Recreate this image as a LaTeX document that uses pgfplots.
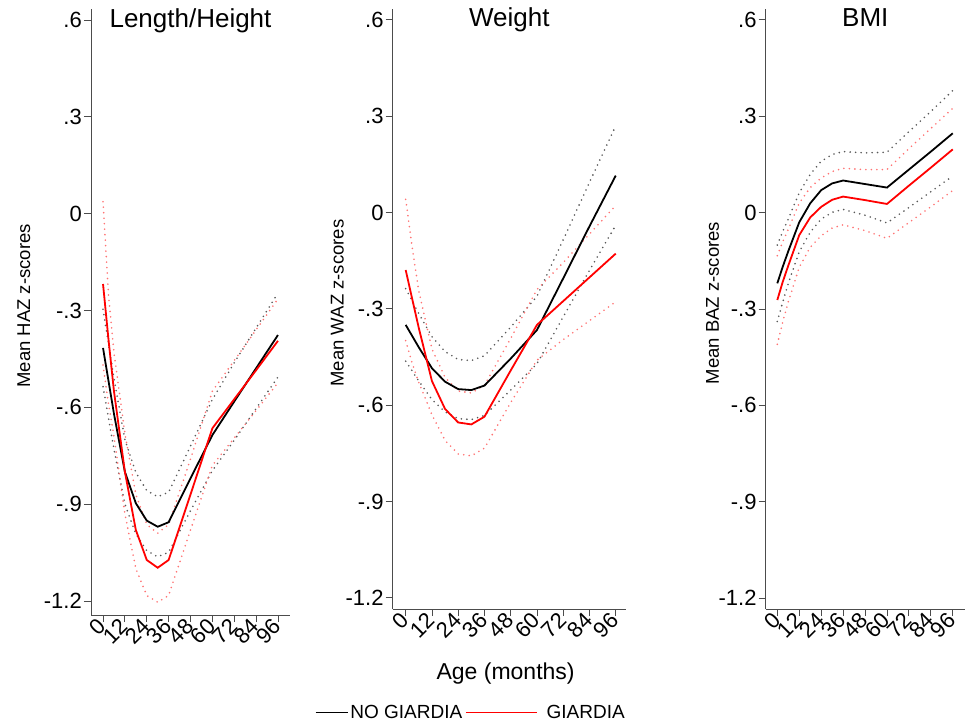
\documentclass[border=0pt]{standalone}
\usepackage{fontspec}
\setmainfont{Liberation Sans}
\usepackage{pgfplots}
\usepackage{pgfplotstable}
\pgfplotsset{compat=1.18}

% columns: age (months), mean z-score, lower and upper CI
\pgfplotstableread{
x m lo hi
0 -0.416 -0.536 -0.296
6 -0.620 -0.730 -0.510
12 -0.800 -0.900 -0.700
18 -0.897 -0.992 -0.802
24 -0.951 -1.044 -0.858
30 -0.970 -1.063 -0.877
36 -0.956 -1.049 -0.863
48 -0.820 -0.920 -0.720
60 -0.686 -0.796 -0.576
72 -0.582 -0.702 -0.462
84 -0.479 -0.604 -0.354
96 -0.376 -0.506 -0.246
}\haznog
\pgfplotstableread{
x m lo hi
0 -0.218 -0.469 0.037
3 -0.390 -0.590 -0.250
6 -0.550 -0.690 -0.430
12 -0.800 -0.930 -0.680
18 -0.980 -1.100 -0.870
24 -1.073 -1.183 -0.963
30 -1.097 -1.204 -0.990
36 -1.073 -1.183 -0.963
48 -0.870 -0.980 -0.760
60 -0.665 -0.780 -0.550
72 -0.575 -0.695 -0.455
84 -0.485 -0.610 -0.360
96 -0.394 -0.524 -0.264
}\hazg
\pgfplotstableread{
x m lo hi
0 -0.350 -0.463 -0.237
6 -0.420 -0.525 -0.315
12 -0.485 -0.583 -0.387
18 -0.527 -0.621 -0.433
24 -0.550 -0.642 -0.458
30 -0.553 -0.645 -0.461
36 -0.539 -0.632 -0.446
48 -0.455 -0.553 -0.357
60 -0.366 -0.471 -0.261
72 -0.205 -0.325 -0.085
84 -0.043 -0.180 0.094
96 0.115 -0.040 0.270
}\waznog
\pgfplotstableread{
x m lo hi
0 -0.179 -0.399 0.041
3 -0.270 -0.470 -0.110
6 -0.360 -0.530 -0.245
12 -0.525 -0.630 -0.425
18 -0.612 -0.710 -0.514
24 -0.654 -0.752 -0.556
30 -0.660 -0.758 -0.562
36 -0.636 -0.734 -0.538
48 -0.492 -0.592 -0.392
60 -0.350 -0.460 -0.240
72 -0.276 -0.396 -0.156
84 -0.202 -0.337 -0.067
96 -0.128 -0.278 0.022
}\wazg
\pgfplotstableread{
x m lo hi
0 -0.220 -0.339 -0.101
3 -0.168 -0.278 -0.058
6 -0.120 -0.220 -0.020
12 -0.030 -0.122 0.062
18 0.029 -0.061 0.119
24 0.070 -0.020 0.160
30 0.091 0.001 0.181
36 0.100 0.010 0.190
48 0.089 -0.008 0.186
60 0.078 -0.032 0.188
72 0.134 0.016 0.252
84 0.190 0.065 0.315
96 0.247 0.114 0.380
}\baznog
\pgfplotstableread{
x m lo hi
0 -0.272 -0.410 -0.134
3 -0.215 -0.340 -0.090
6 -0.165 -0.278 -0.052
12 -0.070 -0.170 0.030
18 -0.015 -0.108 0.078
24 0.018 -0.072 0.108
30 0.040 -0.048 0.128
36 0.050 -0.038 0.138
48 0.039 -0.056 0.134
60 0.027 -0.080 0.134
72 0.084 -0.031 0.199
84 0.140 0.018 0.262
96 0.197 0.069 0.325
}\bazg

\pgfplotsset{
  zpanel/.style={
    scale only axis,
    axis x line*=bottom, axis y line*=left,
    axis line style={-, black!70, line width=1pt},
    tick style={black!70, line width=0.9pt},
    tick align=outside,
    major tick length=7pt,
    xtick={0,12,...,96},
    xticklabels={0,12,24,36,48,60,72,84,96},
    ytick={-1.2,-0.9,-0.6,-0.3,0,0.3,0.6},
    yticklabels={-1.2,-.9,-.6,-.3,0,.3,.6},
    ticklabel style={font=\fontsize{22}{26}\selectfont},
    xticklabel style={rotate=45, anchor=east, inner sep=1pt},
    yticklabel style={inner sep=2pt},
    title style={font=\fontsize{26}{30}\selectfont, at={(0.5,0.96)}, anchor=base},
    ylabel style={font=\fontsize{18.5}{22}\selectfont, anchor=center},
  },
  nogci/.style={black!65, line width=1.8pt, line cap=round, dash pattern=on 0pt off 5.5pt, forget plot},
  gci/.style={red!55, line width=1.8pt, line cap=round, dash pattern=on 0pt off 5.5pt, forget plot},
  nogm/.style={black, line width=1.8pt},
  gm/.style={red, line width=1.8pt},
}

\begin{document}
\begin{tikzpicture}
\useasboundingbox (0,0) rectangle (966pt,723pt);

% Length/Height
\begin{axis}[zpanel, at={(91pt,108pt)}, anchor=south west,
    width=199pt, height=606pt,
    xmin=-6.6, xmax=102.6, ymin=-1.2434, ymax=0.634,
    title={Length/Height},
    ylabel={Mean HAZ z-scores},
    ylabel style={at={(axis description cs:-0.337,0.51)}}]
\addplot[nogci] table[x=x,y=lo] {\haznog};
\addplot[nogci] table[x=x,y=hi] {\haznog};
\addplot[gci] table[x=x,y=lo] {\hazg};
\addplot[gci] table[x=x,y=hi] {\hazg};
\addplot[nogm] table[x=x,y=m] {\haznog};
\addplot[gm] table[x=x,y=m] {\hazg};
\end{axis}

% Weight
\begin{axis}[zpanel, at={(392.7pt,114pt)}, anchor=south west,
    width=233.3pt, height=600pt,
    xmin=-5.94, xmax=100.7, ymin=-1.235, ymax=0.634,
    title={Weight},
    ylabel={Mean WAZ z-scores},
    ylabel style={at={(axis description cs:-0.237,0.51)}},
    xlabel={Age (months)},
    xlabel style={font=\fontsize{23}{27}\selectfont, at={(axis description cs:0.484,-0.107)}, anchor=center},
    legend style={draw=none, fill=none, at={(axis description cs:0.335,-0.172)}, anchor=center,
      font=\fontsize{19}{22}\selectfont, legend columns=2,
      /tikz/every even column/.append style={column sep=1pt}},
    legend cell align=left]
\addplot[nogci] table[x=x,y=lo] {\waznog};
\addplot[nogci] table[x=x,y=hi] {\waznog};
\addplot[gci] table[x=x,y=lo] {\wazg};
\addplot[gci] table[x=x,y=hi] {\wazg};
\addplot[nogm, legend image code/.code={\draw[black, line width=1.4pt] (0pt,0pt) -- (32pt,0pt);}] table[x=x,y=m] {\waznog};
\addlegendentry{NO GIARDIA}
\addplot[gm, legend image code/.code={\draw[red, line width=1.4pt] (0pt,0pt) -- (71pt,0pt);}] table[x=x,y=m] {\wazg};
\addlegendentry{\hspace{7pt}GIARDIA}
\end{axis}

% BMI
\begin{axis}[zpanel, at={(765.7pt,114pt)}, anchor=south west,
    width=199.3pt, height=600pt,
    xmin=-6.35, xmax=102.7, ymin=-1.234, ymax=0.634,
    title={BMI},
    ylabel={Mean BAZ z-scores},
    ylabel style={at={(axis description cs:-0.267,0.51)}}]
\addplot[nogci] table[x=x,y=lo] {\baznog};
\addplot[nogci] table[x=x,y=hi] {\baznog};
\addplot[gci] table[x=x,y=lo] {\bazg};
\addplot[gci] table[x=x,y=hi] {\bazg};
\addplot[nogm] table[x=x,y=m] {\baznog};
\addplot[gm] table[x=x,y=m] {\bazg};
\end{axis}
\end{tikzpicture}
\end{document}
